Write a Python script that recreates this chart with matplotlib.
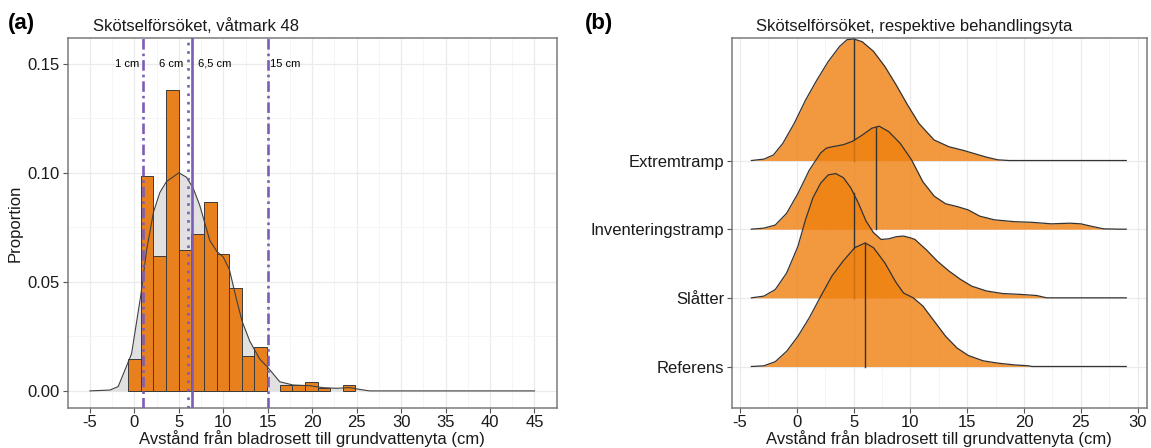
import numpy as np
import matplotlib
matplotlib.use("Agg")
from matplotlib import pyplot as plt

plt.rcParams['font.family'] = ['Liberation Sans', 'DejaVu Sans']
plt.rcParams['axes.unicode_minus'] = False

# ---- panel (a): histogram + density ----
bin_width = 1.42
hist_centers = [0.02, 1.44, 2.86, 4.28, 5.70, 7.12, 8.54, 9.96, 11.38, 12.80,
                14.22, 17.06, 18.48, 19.90, 21.32, 24.16]
hist_heights = [0.0146, 0.0984, 0.0617, 0.138, 0.0647, 0.072, 0.0867, 0.063,
                0.0471, 0.0159, 0.0203, 0.0027, 0.0027, 0.0043, 0.0015, 0.0027]

dens_x = [-5.0, -2.75, -1.82, -0.32, 0.73, 1.37, 2.15, 2.87, 3.61, 5.0, 5.86,
          6.61, 7.36, 7.85, 8.48, 9.27, 9.98, 10.69, 11.48, 12.11, 12.98, 14.1,
          14.96, 16.35, 17.85, 19.72, 21.22, 22.72, 24.21, 25.33, 26.45, 45.0]
dens_y = [0.0, 0.0004, 0.002, 0.017, 0.044, 0.0645, 0.082, 0.091, 0.096, 0.100,
          0.098, 0.093, 0.085, 0.078, 0.069, 0.064, 0.0615, 0.0556, 0.042, 0.032,
          0.0228, 0.0146, 0.011, 0.0042, 0.0027, 0.0024, 0.0015, 0.0012, 0.0015,
          0.0007, 0.0, 0.0]

marker_x = [1, 6, 6.5, 15]
marker_labels = ['1 cm', '6 cm', '6,5 cm', '15 cm']

# ---- panel (b): ridgelines ----
groups = ['Referens', 'Slåtter', 'Inventeringstramp', 'Extremtramp']
medians = [6.0, 5.0, 7.0, 5.0]

ref_x = [-4, -2.9, -1.9, -0.9, 0.1, 1.1, 2.1, 3.1, 4.1, 5.1, 6.02, 6.75, 7.75,
         8.75, 9.4, 10.25, 11.1, 12.1, 13.1, 14.1, 15.1, 16.4, 17.7, 19.1,
         20.4, 20.7, 29]
ref_y = [0, 0.01, 0.07, 0.22, 0.44, 0.71, 1.02, 1.32, 1.54, 1.73, 1.80, 1.73,
         1.51, 1.22, 1.07, 1.0, 0.88, 0.66, 0.44, 0.27, 0.16, 0.083, 0.049,
         0.024, 0.01, 0, 0]

sla_x = [-4, -2.9, -1.9, -0.9, -0.23, 0.1, 0.77, 1.43, 2.1, 2.76, 3.43, 4.1,
         4.76, 5.42, 6.09, 6.75, 7.42, 8.1, 8.75, 9.4, 10.08, 10.4, 11.4, 12.4,
         13.4, 14.4, 15.4, 16.7, 18.1, 19.7, 21.1, 22, 29]
sla_y = [0, 0.025, 0.12, 0.36, 0.62, 0.75, 1.14, 1.46, 1.67, 1.79, 1.81, 1.75,
         1.60, 1.38, 1.12, 0.95, 0.85, 0.86, 0.89, 0.90, 0.87, 0.85, 0.70, 0.53,
         0.39, 0.27, 0.17, 0.10, 0.063, 0.05, 0.034, 0, 0]

inv_x = [-4, -2.9, -1.9, -0.9, 0.1, 1.1, 2.1, 2.6, 3.1, 4.1, 4.9, 5.76, 6.6,
         7.25, 8.1, 9.1, 10.1, 11.1, 12.1, 13.1, 14.1, 15.1, 16.1, 17.4, 19.1,
         20.7, 22.4, 24.05, 25.0, 26.0, 27.0, 28.4, 29]
inv_y = [0, 0.015, 0.06, 0.23, 0.52, 0.86, 1.11, 1.18, 1.20, 1.23, 1.28, 1.37,
         1.47, 1.50, 1.42, 1.25, 1.01, 0.69, 0.48, 0.37, 0.33, 0.28, 0.19,
         0.136, 0.11, 0.10, 0.078, 0.087, 0.078, 0.04, 0.005, 0, 0]

ext_x = [-4, -2.9, -2.06, -1.23, -0.23, 0.77, 1.76, 2.76, 3.76, 4.42, 5.02,
         5.76, 6.75, 7.75, 8.75, 9.75, 10.75, 12.08, 13.4, 14.7, 15.7, 16.7,
         17.7, 18.7, 29]
ext_y = [0, 0.02, 0.08, 0.25, 0.54, 0.88, 1.17, 1.44, 1.66, 1.76, 1.77, 1.73,
         1.59, 1.37, 1.10, 0.81, 0.54, 0.30, 0.20, 0.146, 0.097, 0.049, 0.01,
         0, 0]

ridges_x = [ref_x, sla_x, inv_x, ext_x]
ridges_y = [ref_y, sla_y, inv_y, ext_y]

W, H = 1151, 448
fig = plt.figure(figsize=(W / 100, H / 100), dpi=100)

purple = '#7C5EB6'
orange_bar = '#E8801D'
orange_ridge = '#EF7F0E'
grid_major = '#EBEBEB'
grid_minor = '#F4F4F4'


def style_axes(ax):
    for s in ax.spines.values():
        s.set_color('#7a7a7a')
        s.set_linewidth(1.1)
    ax.tick_params(axis='both', which='major', length=3.5, width=0.8,
                   color='#555555', labelsize=12, labelcolor='#1a1a1a', pad=2)
    ax.tick_params(axis='both', which='minor', length=0)
    ax.grid(True, which='major', color=grid_major, linewidth=0.9, zorder=0)
    ax.grid(True, which='minor', color=grid_minor, linewidth=0.6, zorder=0)
    ax.set_axisbelow(True)


def axes_rect(left, right, top, bottom):
    return [left / W, 1 - bottom / H, (right - left) / W, (bottom - top) / H]


# ---------- (a) ----------
ax = fig.add_axes(axes_rect(67.7, 556.7, 38.3, 407.7))
style_axes(ax)
ax.fill_between(dens_x, dens_y, 0, color='#DCDCDC', alpha=0.85, lw=0, zorder=1)
ax.bar(hist_centers, hist_heights, width=bin_width, color=orange_bar,
       edgecolor='#3a3a3a', linewidth=0.7, zorder=2)
ax.plot(dens_x, dens_y, color='#404040', lw=0.8, zorder=3)

line_styles = [(0, (4, 1.5, 1, 1.5)), (0, (1, 2.2)), '-', (0, (4, 1.5, 1, 1.5))]
for xv, ls in zip(marker_x, line_styles):
    ax.axvline(xv, color=purple, lw=1.9, ls=ls, zorder=4)
ax.text(marker_x[0] - 0.5, 0.15, marker_labels[0], ha='right', va='center', fontsize=8)
ax.text(marker_x[1] - 0.5, 0.15, marker_labels[1], ha='right', va='center', fontsize=8)
ax.text(marker_x[2] + 0.6, 0.15, marker_labels[2], ha='left', va='center', fontsize=8)
ax.text(marker_x[3] + 0.3, 0.15, marker_labels[3], ha='left', va='center', fontsize=8)

ax.set_xlim(-7.5, 47.5)
ax.set_ylim(-0.0077, 0.1617)
ax.set_xticks(np.arange(-5, 46, 5))
ax.set_xticks(np.arange(-2.5, 45, 5), minor=True)
ax.set_yticks([0, 0.05, 0.10, 0.15])
ax.set_yticklabels(['0.00', '0.05', '0.10', '0.15'])
ax.set_yticks([0.025, 0.075, 0.125], minor=True)
ax.set_xlabel('Avstånd från bladrosett till grundvattenyta (cm)', fontsize=12,
              color='#1a1a1a', labelpad=0)
ax.set_ylabel('Proportion', fontsize=12, color='#1a1a1a')
ax.yaxis.set_label_coords(-0.093, 0.5)
ax.text(25 / 489, 1.0 + 12 / 369.4, 'Skötselförsöket, våtmark 48', transform=ax.transAxes,
        ha='left', va='center', fontsize=12, color='#1a1a1a')

# ---------- (b) ----------
bx = fig.add_axes(axes_rect(731.7, 1146.7, 38.3, 407.7))
style_axes(bx)
for i in range(len(groups) - 1, -1, -1):
    base = i + 1
    xs = np.array(ridges_x[i], dtype=float)
    ys = np.array(ridges_y[i], dtype=float)
    bx.fill_between(xs, base, base + ys, color=orange_ridge, alpha=0.8, lw=0,
                    zorder=2 + (4 - i) * 2)
    bx.plot(xs, base + ys, color='#333333', lw=0.9, zorder=3 + (4 - i) * 2)
    hm = np.interp(medians[i], xs, ys)
    bx.plot([medians[i], medians[i]], [base, base + hm], color='#333333', lw=1.0,
            zorder=3 + (4 - i) * 2)

bx.set_xlim(-5.73, 30.8)
bx.set_ylim(0.4, 5.78)
bx.set_xticks(np.arange(-5, 31, 5))
bx.set_xticks(np.arange(-2.5, 30, 5), minor=True)
bx.set_yticks([1, 2, 3, 4])
bx.set_yticklabels(groups)
bx.set_xlabel('Avstånd från bladrosett till grundvattenyta (cm)', fontsize=12,
              color='#1a1a1a', labelpad=0)
bx.text(24 / 415, 1.0 + 12 / 369.4, 'Skötselförsöket, respektive behandlingsyta',
        transform=bx.transAxes, ha='left', va='center', fontsize=12, color='#1a1a1a')

fig.text(8 / W, 1 - 24 / H, '(a)', fontsize=16, fontweight='bold', va='center', ha='left')
fig.text(585 / W, 1 - 24 / H, '(b)', fontsize=16, fontweight='bold', va='center', ha='left')

fig.savefig('out.png', dpi=100)
